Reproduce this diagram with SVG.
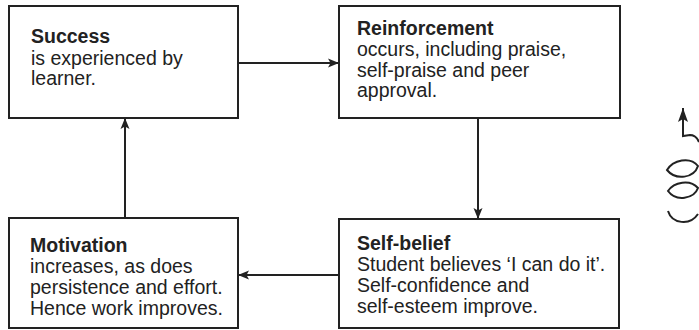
<svg xmlns="http://www.w3.org/2000/svg" width="699" height="330" viewBox="0 0 699 330">
<style>
.box{fill:#fff;stroke:#222;stroke-width:2}
.t{font-family:"Liberation Sans",Arial,sans-serif;font-size:19.5px;fill:#222}
.b{font-weight:bold}
.c{fill:none;stroke:#222;stroke-width:2}
</style>
<defs>
<marker id="ah" markerUnits="userSpaceOnUse" markerWidth="12" markerHeight="10" refX="11" refY="5" orient="auto">
<path d="M0,0.5 L11,5 L0,9.5 L2.5,5 Z" fill="#222"/>
</marker>
<marker id="ah2" markerUnits="userSpaceOnUse" markerWidth="14" markerHeight="12" refX="14" refY="5.5" orient="auto">
<path d="M0,0.5 L14,5.5 L0,10.5 L3,5.5 Z" fill="#222"/>
</marker>
</defs>
<rect width="699" height="330" fill="#fff"/>
<g id="connectors">
<line class="c" x1="238" y1="63" x2="339" y2="63" marker-end="url(#ah)"/>
<line class="c" x1="478" y1="118" x2="478" y2="219" marker-end="url(#ah)"/>
<line class="c" x1="339" y1="275" x2="238" y2="275" marker-end="url(#ah)"/>
<line class="c" x1="125" y1="218" x2="125" y2="118" marker-end="url(#ah)"/>
</g>
<g id="success">
<rect class="box" x="9" y="6" width="229" height="112"/>
<text class="t b" x="31" y="42.5">Success</text>
<text class="t" x="31" y="64.5">is experienced by</text>
<text class="t" x="31" y="85">learner.</text>
</g>
<g id="reinforcement">
<rect class="box" x="339" y="6" width="281" height="112"/>
<text class="t b" x="357" y="34.5">Reinforcement</text>
<text class="t" x="357" y="55.5">occurs, including praise,</text>
<text class="t" x="357" y="76.5">self-praise and peer</text>
<text class="t" x="357" y="97">approval.</text>
</g>
<g id="self-belief">
<rect class="box" x="339" y="219" width="280" height="109"/>
<text class="t b" x="357" y="250">Self-belief</text>
<text class="t" x="357" y="271">Student believes ‘I can do it’.</text>
<text class="t" x="357" y="292">Self-confidence and</text>
<text class="t" x="357" y="313">self-esteem improve.</text>
</g>
<g id="motivation">
<rect class="box" x="9" y="218" width="229" height="110"/>
<text class="t b" x="30" y="251.5">Motivation</text>
<text class="t" x="30" y="272.5">increases, as does</text>
<text class="t" x="30" y="293.5">persistence and effort.</text>
<text class="t" x="30" y="314.5">Hence work improves.</text>
</g>
<g id="spring">
<path class="c" d="M699,142 Q696,135 690,135 L683,136 L683,108" marker-end="url(#ah2)"/>
<path class="c" d="M667,170 C673,160 690,156 698,166 C694,178 676,181 667,170 Z"/>
<path class="c" d="M668,191 C674,182 690,179 698,188 C694,199 676,202 668,191 Z"/>
<path class="c" d="M668,211 C672,224 690,226 698,214"/>
</g>
</svg>
